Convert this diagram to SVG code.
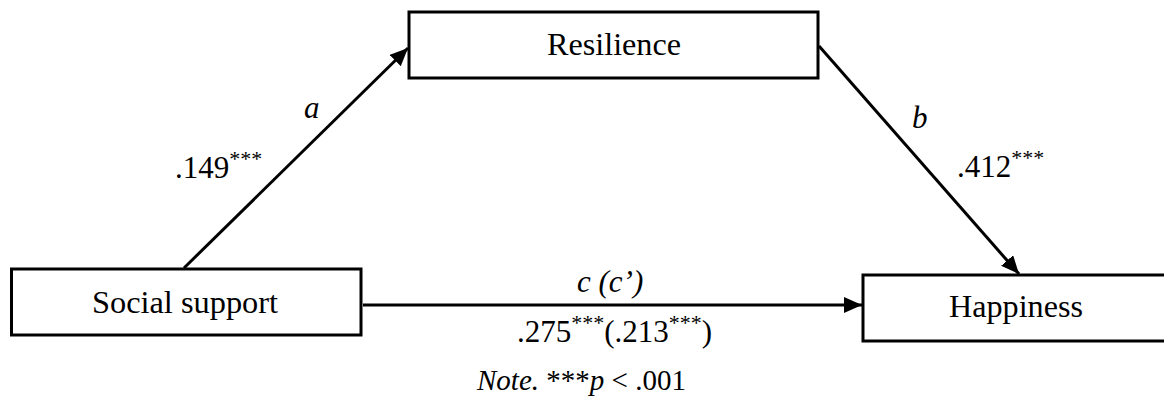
<svg xmlns="http://www.w3.org/2000/svg" width="1164" height="402" viewBox="0 0 1164 402">
<style>
.box{fill:#fff;stroke:#000;stroke-width:3}
.t{font-family:'Liberation Serif','Times New Roman','DejaVu Serif',serif;font-size:31px;fill:#000}
.i{font-style:italic}
.sup{font-size:22px}
.note{font-size:29px}
.edge{stroke:#000;stroke-width:3;fill:none}
</style>
<defs>
<marker id="ah" markerUnits="userSpaceOnUse" markerWidth="20" markerHeight="18" refX="18" refY="8" orient="auto">
<path d="M0,0 L18,8 L0,16 Z" fill="#000"/>
</marker>
</defs>
<rect width="1164" height="402" fill="#fff"/>
<g id="connectors">
<line class="edge" x1="184" y1="268" x2="408" y2="48" marker-end="url(#ah)"/>
<line class="edge" x1="819" y1="46" x2="1019" y2="274" marker-end="url(#ah)"/>
<line class="edge" x1="363" y1="305" x2="862" y2="305" marker-end="url(#ah)"/>
</g>
<g id="node-resilience">
<rect class="box" x="409" y="12" width="409" height="66"/>
<text class="t" x="547" y="55" textLength="134" lengthAdjust="spacingAndGlyphs">Resilience</text>
</g>
<g id="node-social-support">
<rect class="box" x="11.5" y="269" width="349.5" height="66"/>
<text class="t" x="92" y="313" textLength="186" lengthAdjust="spacingAndGlyphs">Social support</text>
</g>
<g id="node-happiness">
<rect class="box" x="863" y="275" width="320" height="66"/>
<text class="t" x="949" y="317" textLength="134" lengthAdjust="spacingAndGlyphs">Happiness</text>
</g>
<g id="labels">
<text class="t i" x="304" y="118">a</text>
<text class="t" x="175" y="178">.149<tspan class="sup" dy="-12">***</tspan></text>
<text class="t i" x="912" y="128">b</text>
<text class="t" x="957" y="177">.412<tspan class="sup" dy="-12">***</tspan></text>
<text class="t i" x="577" y="292">c (c’)</text>
<text class="t" x="517" y="342">.275<tspan class="sup" dy="-12">***</tspan><tspan dy="12">(.213</tspan><tspan class="sup" dy="-12">***</tspan><tspan dy="12">)</tspan></text>
<text class="t note" x="477" y="390"><tspan class="i">Note.</tspan> ***<tspan class="i">p</tspan> &lt; .001</text>
</g>
</svg>
